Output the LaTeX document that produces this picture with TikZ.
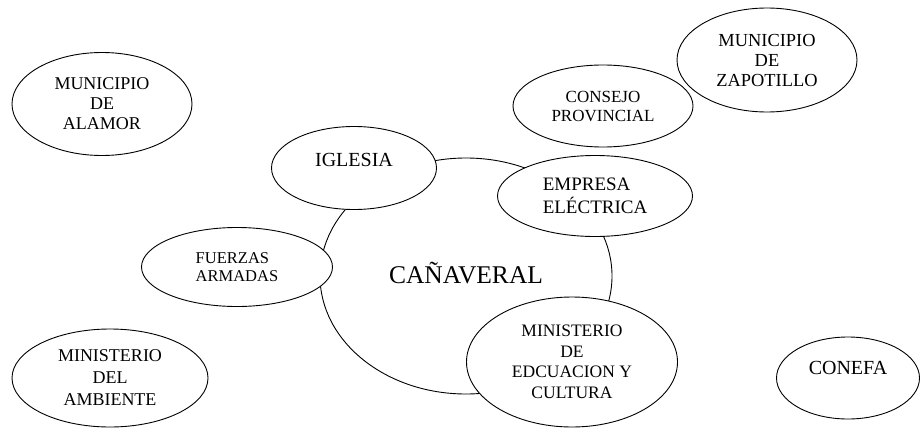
\documentclass[tikz,border=0pt]{standalone}
\usepackage{fontspec}
\setmainfont{Liberation Serif}
\usetikzlibrary{shapes.geometric}
\tikzset{
	ent/.style={draw, ellipse, fill=white, line width=0.9pt, align=center, inner sep=0pt},
	fs/.style 2 args={font=\fontsize{#1}{#2}\selectfont}
}

\begin{document}
\begin{tikzpicture}[x=1pt,y=-1pt]
\useasboundingbox (0,0) rectangle (920,428);
\node (canaveral) [ent, minimum width=292pt, minimum height=236pt, fs={25.5}{30}, text height=14pt, text depth=0pt] at (466,276) {CAÑAVERAL};
\node (alamor) [ent, minimum width=180pt, minimum height=103pt, fs={18}{20}] at (102,104) {MUNICIPIO\\DE\\ALAMOR};
\node (consejo) [ent, minimum width=180pt, minimum height=82pt, fs={17}{19}] at (603,106) {CONSEJO\\PROVINCIAL};
\node (zapotillo) [ent, minimum width=180pt, minimum height=104pt, fs={18.4}{20}] at (767,60) {MUNICIPIO\\DE\\ZAPOTILLO};
\node (iglesia) [ent, minimum width=165pt, minimum height=83pt, fs={20}{22}, text height=10pt, text depth=13pt] at (354,168) {IGLESIA};
\node (empresa) [ent, minimum width=195pt, minimum height=81pt, fs={19}{23}, align=left] at (595,196) {EMPRESA\\ELÉCTRICA};
\node (fuerzas) [ent, minimum width=191pt, minimum height=79pt, fs={16.5}{18}, align=left] at (237,267) {FUERZAS\\ARMADAS};
\node (educacion) [ent, minimum width=211pt, minimum height=130pt, fs={17.5}{20.5}] at (572,362) {MINISTERIO\\DE\\EDCUACION Y\\CULTURA};
\node (ambiente) [ent, minimum width=196pt, minimum height=98pt, fs={18}{22}] at (110,378) {MINISTERIO\\DEL\\AMBIENTE};
\node (conefa) [ent, minimum width=143pt, minimum height=82pt, fs={20}{22}, text height=10pt, text depth=17pt] at (848,378) {CONEFA};
\end{tikzpicture}
\end{document}
